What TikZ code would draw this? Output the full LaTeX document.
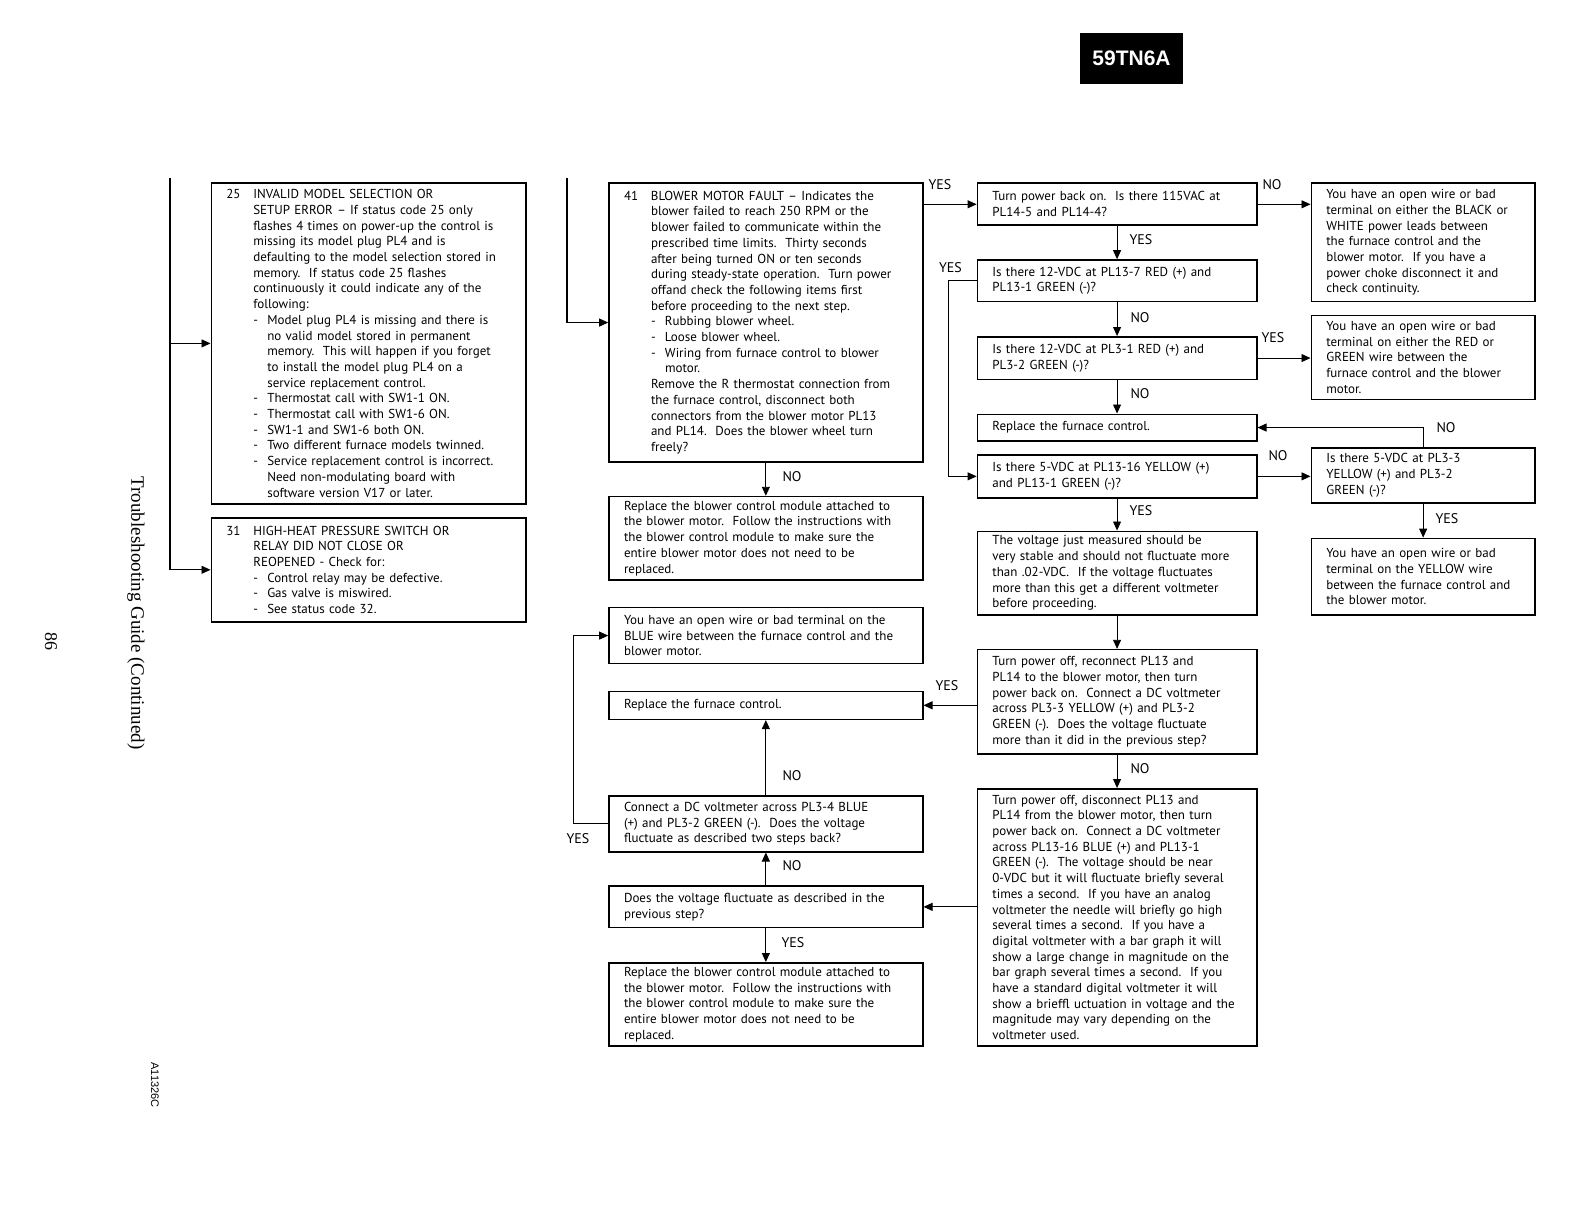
\documentclass[tikz,border=0pt]{standalone}
\usepackage{fontspec}
\setmainfont{PT Sans}
\newfontfamily\serifA{Liberation Serif}
\newfontfamily\helv{Liberation Sans}
\usetikzlibrary{arrows.meta}
\newcommand\boxfont{\fontsize{13}{15.7}\selectfont}
\newcommand\lblfont{\fontsize{14}{16}\selectfont}
\newcommand\num[1]{\makebox[27pt][l]{#1}}
\newcommand\ind{\hspace*{27pt}}
\newcommand\dsh{\makebox[14pt][l]{-}}
\newcommand\dind{\hspace*{14pt}}
\tikzset{
  box/.style={draw, line width=1.6pt, anchor=north west, inner xsep=15pt, inner ysep=0pt, align=left, font=\boxfont},
  colA/.style={minimum width=314.7pt, text width=284.7pt},
  colB/.style={minimum width=313.7pt, text width=283.7pt},
  colC/.style={minimum width=279.3pt, text width=249.3pt},
  colD/.style={minimum width=223.7pt, text width=193.7pt},
  lbl/.style={font=\lblfont, inner sep=0pt},
  conn/.style={line width=0.9pt, -{Triangle[length=9pt,width=8pt]}},
  trunk/.style={line width=1.6pt},
}
\begin{document}
\begin{tikzpicture}[x=1pt,y=-1pt]
\useasboundingbox (0,0) rectangle (1585,1225);

% title block
\node[fill=black, text=white, font=\helv\bfseries\fontsize{21}{24}\selectfont, minimum width=103pt, minimum height=51.6pt, inner sep=0pt] (title) at (1131.5,58.5) {59TN6A};

% rotated margin texts
\node[rotate=-90, font=\serifA\fontsize{19}{22}\selectfont, inner sep=0pt] (guide) at (136,613) {Troubleshooting Guide (Continued)};
\node[rotate=-90, font=\serifA\fontsize{18}{20}\selectfont, inner sep=0pt] (pagenum) at (51,641) {86};
\node[rotate=-90, font=\helv\fontsize{11}{13}\selectfont, inner sep=0pt] (code) at (155,1085) {A11326C};

% ---- left column
\node[box,colA,minimum height=320.8pt] (b25) at (210.5,182.2) {\num{25}INVALID MODEL SELECTION OR\\
\ind SETUP ERROR -- If status code 25 only\\
\ind flashes 4 times on power-up the control is\\
\ind missing its model plug PL4 and is\\
\ind defaulting to the model selection stored in\\
\ind memory.\ \ If status code 25 flashes\\
\ind continuously it could indicate any of the\\
\ind following:\\
\ind\dsh Model plug PL4 is missing and there is\\
\ind\dind no valid model stored in permanent\\
\ind\dind memory.\ \ This will happen if you forget\\
\ind\dind to install the model plug PL4 on a\\
\ind\dind service replacement control.\\
\ind\dsh Thermostat call with SW1-1 ON.\\
\ind\dsh Thermostat call with SW1-6 ON.\\
\ind\dsh SW1-1 and SW1-6 both ON.\\
\ind\dsh Two different furnace models twinned.\\
\ind\dsh Service replacement control is incorrect.\\
\ind\dind Need non-modulating board with\\
\ind\dind software version V17 or later.};

\node[box,colA,minimum height=104pt] (b31) at (210.5,517) {\num{31}HIGH-HEAT PRESSURE SWITCH OR\\
\ind RELAY DID NOT CLOSE OR\\
\ind REOPENED - Check for:\\
\ind\dsh Control relay may be defective.\\
\ind\dsh Gas valve is miswired.\\
\ind\dsh See status code 32.};

% ---- middle column
\node[box,colB,minimum height=278.5pt] (b41) at (608.2,182.5) {\num{41}BLOWER MOTOR FAULT -- Indicates the\\
\ind blower failed to reach 250 RPM or the\\
\ind blower failed to communicate within the\\
\ind prescribed time limits.\ \ Thirty seconds\\
\ind after being turned ON or ten seconds\\
\ind during steady-state operation.\ \ Turn power\\
\ind offand check the following items first\\
\ind before proceeding to the next step.\\
\ind\dsh Rubbing blower wheel.\\
\ind\dsh Loose blower wheel.\\
\ind\dsh Wiring from furnace control to blower\\
\ind\dind motor.\\
\ind Remove the R thermostat connection from\\
\ind the furnace control, disconnect both\\
\ind connectors from the blower motor PL13\\
\ind and PL14.\ \ Does the blower wheel turn\\
\ind freely?};

\node[box,colB,minimum height=83.5pt] (rb1) at (608.2,495.8) {Replace the blower control module attached to\\
the blower motor.\ \ Follow the instructions with\\
the blower control module to make sure the\\
entire blower motor does not need to be\\
replaced.};

\node[box,colB,minimum height=56pt] (blue) at (608.2,606.8) {You have an open wire or bad terminal on the\\
BLUE wire between the furnace control and the\\
blower motor.};

\node[box,colB,minimum height=28pt] (rfc1) at (608.2,690.5) {Replace the furnace control.};

\node[box,colB,minimum height=55.7pt] (conn) at (608.2,795.2) {Connect a DC voltmeter across PL3-4 BLUE\\
(+) and PL3-2 GREEN (-).\ \ Does the voltage\\
fluctuate as described two steps back?};

\node[box,colB,minimum height=41.5pt] (does) at (608.2,885.3) {Does the voltage fluctuate as described in the\\
previous step?};

\node[box,colB,minimum height=83.2pt] (rb2) at (608.2,962) {Replace the blower control module attached to\\
the blower motor.\ \ Follow the instructions with\\
the blower control module to make sure the\\
entire blower motor does not need to be\\
replaced.};

% ---- right-middle column
\node[box,colC,minimum height=42pt] (tp) at (976.6,182.5) {Turn power back on.\ \ Is there 115VAC at\\
PL14-5 and PL14-4?};

\node[box,colC,minimum height=41.5pt] (i12a) at (976.6,259.2) {Is there 12-VDC at PL13-7 RED (+) and\\
PL13-1 GREEN (-)?};

\node[box,colC,minimum height=42.5pt] (i12b) at (976.6,336) {Is there 12-VDC at PL3-1 RED (+) and\\
PL3-2 GREEN (-)?};

\node[box,colC,minimum height=26.5pt] (rfc2) at (976.6,413.5) {Replace the furnace control.};

\node[box,colC,minimum height=42.7pt] (i5a) at (976.6,454.2) {Is there 5-VDC at PL13-16 YELLOW (+)\\
and PL13-1 GREEN (-)?};

\node[box,colC,minimum height=83.6pt] (volt) at (976.6,530.5) {The voltage just measured should be\\
very stable and should not fluctuate more\\
than .02-VDC.\ \ If the voltage fluctuates\\
more than this get a different voltmeter\\
before proceeding.};

\node[box,colC,minimum height=104.3pt] (tpo1) at (976.6,648.8) {Turn power off, reconnect PL13 and\\
PL14 to the blower motor, then turn\\
power back on.\ \ Connect a DC voltmeter\\
across PL3-3 YELLOW (+) and PL3-2\\
GREEN (-).\ \ Does the voltage fluctuate\\
more than it did in the previous step?};

\node[box,colC,minimum height=257pt] (tpo2) at (976.6,788) {Turn power off, disconnect PL13 and\\
PL14 from the blower motor, then turn\\
power back on.\ \ Connect a DC voltmeter\\
across PL13-16 BLUE (+) and PL13-1\\
GREEN (-).\ \ The voltage should be near\\
0-VDC but it will fluctuate briefly several\\
times a second.\ \ If you have an analog\\
voltmeter the needle will briefly go high\\
several times a second.\ \ If you have a\\
digital voltmeter with a bar graph it will\\
show a large change in magnitude on the\\
bar graph several times a second.\ \ If you\\
have a standard digital voltmeter it will\\
show a brieffl uctuation in voltage and the\\
magnitude may vary depending on the\\
voltmeter used.};

% ---- far right column
\node[box,colD,minimum height=118.3pt] (ow1) at (1310.5,182.5) {You have an open wire or bad\\
terminal on either the BLACK or\\
WHITE power leads between\\
the furnace control and the\\
blower motor.\ \ If you have a\\
power choke disconnect it and\\
check continuity.};

\node[box,colD,minimum height=84.2pt] (ow2) at (1310.5,314.5) {You have an open wire or bad\\
terminal on either the RED or\\
GREEN wire between the\\
furnace control and the blower\\
motor.};

\node[box,colD,minimum height=55.3pt] (i5b) at (1310.5,447) {Is there 5-VDC at PL3-3\\
YELLOW (+) and PL3-2\\
GREEN (-)?};

\node[box,colD,minimum height=76.7pt] (ow3) at (1310.5,537.6) {You have an open wire or bad\\
terminal on the YELLOW wire\\
between the furnace control and\\
the blower motor.};

% ---- trunks on the left
\coordinate (top1) at (170,178);
\coordinate (top2) at (566.7,178);
\draw[trunk] (top1) -- (top1 |- b31.west);
\draw[conn] (top1 |- b25.west) -- (b25.west);
\draw[conn] (top1 |- b31.west) -- (b31.west);
\draw[trunk] (top2) -- (top2 |- b41.west);
\draw[conn] (top2 |- b41.west) -- (b41.west);

% ---- connectors
\draw[conn] (b41.east |- tp.west) -- (tp.west);
\draw[conn] (b41.south) -- (rb1.north);
\draw[conn] (conn.north) -- (rfc1.south);
\draw[conn] (does.north) -- (conn.south);
\draw[conn] (does.south) -- (rb2.north);
\draw[conn] (conn.west) -- ++(-34.4,0) |- (blue.west);
\draw[conn] (tpo1.west |- rfc1.east) -- (rfc1.east);
\draw[conn] (tpo2.west |- does.east) -- (does.east);

\draw[conn] (tp.south) -- (i12a.north);
\draw[conn] (i12a.south) -- (i12b.north);
\draw[conn] (i12b.south) -- (rfc2.north);
\draw[conn] (i12a.west) -- ++(-28.4,0) |- (i5a.west);
\draw[conn] (i5a.south) -- (volt.north);
\draw[conn] (volt.south) -- (tpo1.north);
\draw[conn] (tpo1.south) -- (tpo2.north);

\draw[conn] (tp.east) -- (tp.east -| ow1.west);
\draw[conn] (i12b.east) -- (i12b.east -| ow2.west);
\draw[conn] (i5a.east) -- (i5a.east -| i5b.west);
\draw[conn] (i5b.north) |- (rfc2.east);
\draw[conn] (i5b.south) -- (ow3.north);

% ---- labels
\node[lbl] (l1) at (940,185) {YES};
\node[lbl] (l2) at (1141,240) {YES};
\node[lbl] (l3) at (950.5,268) {YES};
\node[lbl] (l4) at (1140,318) {NO};
\node[lbl] (l5) at (1273,338) {YES};
\node[lbl] (l6) at (1140,394) {NO};
\node[lbl] (l7) at (1278,456) {NO};
\node[lbl] (l8) at (1272,185) {NO};
\node[lbl] (l9) at (1446,428) {NO};
\node[lbl] (l10) at (1447,519) {YES};
\node[lbl] (l11) at (1141,511) {YES};
\node[lbl] (l12) at (947,686) {YES};
\node[lbl] (l13) at (1140,769) {NO};
\node[lbl] (l14) at (792,477) {NO};
\node[lbl] (l15) at (792,776) {NO};
\node[lbl] (l16) at (792,866) {NO};
\node[lbl] (l17) at (793,943) {YES};
\node[lbl] (l18) at (578,839) {YES};
\end{tikzpicture}
\end{document}
